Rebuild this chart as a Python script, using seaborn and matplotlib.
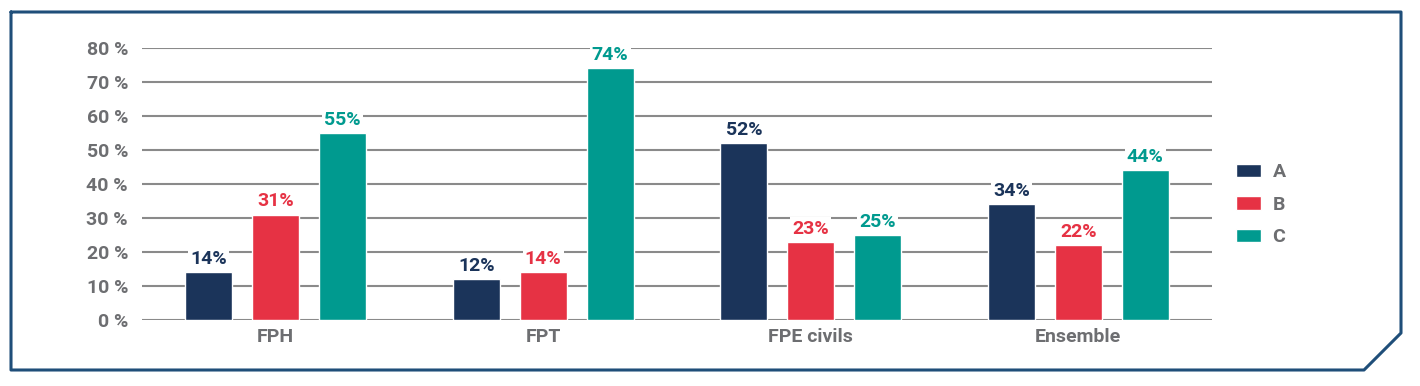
import matplotlib
matplotlib.use("Agg")
import matplotlib.pyplot as plt
from matplotlib.lines import Line2D
import seaborn as sns
import pandas as pd

categories = ["FPH", "FPT", "FPE civils", "Ensemble"]
series = ["A", "B", "C"]
vals_a = [14, 12, 52, 34]
vals_b = [31, 14, 23, 22]
vals_c = [55, 74, 25, 44]
yticks = [0, 10, 20, 30, 40, 50, 60, 70, 80]

colors = {"A": "#1b345a", "B": "#e63244", "C": "#009a8f"}
gray = "#6d6e71"

df = pd.DataFrame({
    "cat": categories * 3,
    "serie": ["A"] * 4 + ["B"] * 4 + ["C"] * 4,
    "val": vals_a + vals_b + vals_c,
})

sns.set_theme(style="white")
plt.rcParams["font.family"] = ["Liberation Sans Narrow", "Roboto", "DejaVu Sans"]
plt.rcParams["font.weight"] = "bold"

fig = plt.figure(figsize=(14.2, 3.86), dpi=100)
ax = fig.add_axes([0.1, 0.171, 0.7535, 0.705])

sns.barplot(data=df, x="cat", y="val", hue="serie", palette=colors, saturation=1,
            width=0.75, gap=0.3, ax=ax, zorder=3, legend=True)

ax.set_xlim(-0.5, 3.5)
ax.set_ylim(0, 80)
ax.set_yticks(yticks)
ax.set_yticklabels([f"{t} %" for t in yticks])
ax.yaxis.grid(True, color="#8a8a8a", linewidth=1.5, zorder=0)
ax.set_axisbelow(True)
for s in ax.spines.values():
    s.set_visible(False)
ax.set_xlabel("")
ax.set_ylabel("")
ax.tick_params(axis="y", colors=gray, labelsize=14, pad=10, length=0)
ax.tick_params(axis="x", colors=gray, labelsize=14, pad=6, length=0)
for lab in ax.get_xticklabels() + ax.get_yticklabels():
    lab.set_fontweight("bold")

for cont, s in zip(ax.containers, series):
    ax.bar_label(cont, labels=[f"{v:.0f}%" for v in cont.datavalues], padding=3,
                 color=colors[s], fontsize=14, fontweight="bold",
                 bbox=dict(facecolor="white", edgecolor="none", pad=1.5), zorder=4)

leg = ax.legend(loc="center left", bbox_to_anchor=(1.022, 0.423), frameon=False,
                handlelength=1.3, handleheight=0.7, labelspacing=0.75, fontsize=14,
                handletextpad=0.6, borderpad=0, borderaxespad=0)
for t in leg.get_texts():
    t.set_color(gray)
    t.set_fontweight("bold")

# cadre avec coin coupé
W, H = 1420, 386
pts = [(11, 12), (1401, 12), (1401, 333), (1364, 370), (11, 370), (11, 12)]
xs = [p[0] / W for p in pts]
ys = [1 - p[1] / H for p in pts]
fig.add_artist(Line2D(xs, ys, color="#1f4e79", linewidth=2.2, transform=fig.transFigure))

fig.savefig("out.png", dpi=100)
